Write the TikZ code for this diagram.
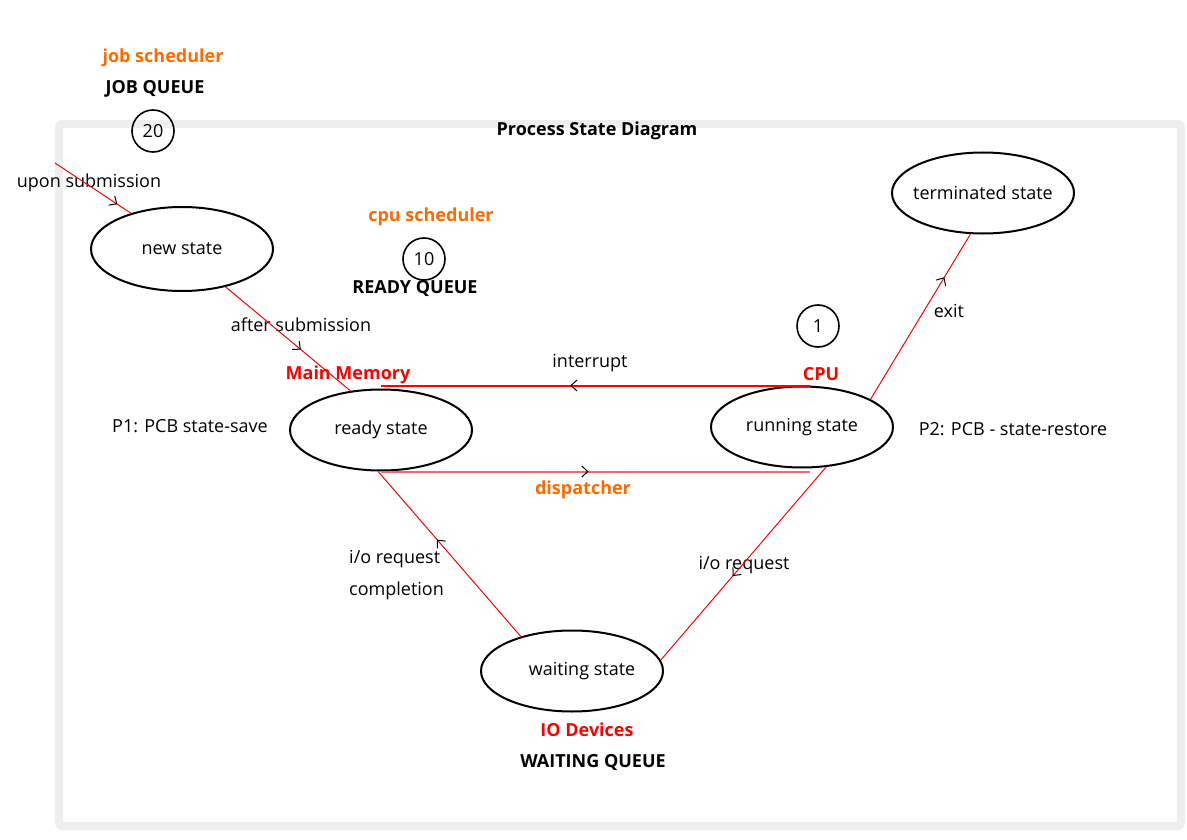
\documentclass[tikz,border=0pt]{standalone}
\usepackage{fontspec}
\setmainfont{Open Sans}
\usetikzlibrary{shapes.geometric}
\definecolor{frame}{HTML}{EEEEEE}
\definecolor{orng}{HTML}{FF6A00}
\definecolor{dispred}{HTML}{F26B6B}
\definecolor{linered}{HTML}{FF0000}
\tikzset{
  state/.style={ellipse,draw=black,line width=2pt,minimum width=182pt,minimum height=81pt,inner xsep=-20pt,inner ysep=-6pt,font=\fontsize{18}{20}\selectfont},
  cnt/.style={circle,draw=black,line width=1.6pt,minimum size=42pt,inner sep=0pt,font=\fontsize{18}{20}\selectfont},
  lbl/.style={font=\fontsize{18}{20}\selectfont,inner sep=0pt},
  hdr/.style={font=\fontsize{18}{20}\selectfont\bfseries,inner sep=0pt},
  redline/.style={draw=linered,line width=1pt},
  tip/.style={pos=#1,sloped,allow upside down,inner sep=0pt,minimum size=14pt,
    path picture={\draw[black,line width=1pt,line join=miter]
      ([xshift=-3pt,yshift=5.5pt]path picture bounding box.center) --
      ([xshift=3pt]path picture bounding box.center) --
      ([xshift=-3pt,yshift=-5.5pt]path picture bounding box.center);}},
}
\begin{document}
\begin{tikzpicture}[x=1pt,y=-1pt]
\useasboundingbox (0,0) rectangle (1187,840);
\draw[frame,line width=8pt,rounded corners=3pt] (59,124) rectangle (1181,826);
\node[hdr] (title) at (597,131) {Process State Diagram};
% job queue
\node[hdr,text=orng] (jobs) at (163,58) {job scheduler};
\node[hdr] (jobq) at (155,89) {JOB QUEUE};
\node[cnt] (c20) at (153,131) {20};
% cpu scheduler
\node[hdr,text=orng] (cpus) at (431,217) {cpu scheduler};
\node[cnt] (c10) at (424,259) {10};
\node[hdr] (readyq) at (415,289) {READY QUEUE};
\node[cnt] (c1) at (818,326) {1};
% states
\node[state,minimum height=84pt] (new) at (182,249) {new state};
\node[state] (ready) at (381,430) {ready state};
\node[state] (running) at (802,427) {running state};
\node[state] (term) at (983,193) {terminated state};
\node[state] (wait) at (572,671) {\hspace*{20pt}waiting state};
% labels
\node[lbl] (upon) at (89,183) {upon submission};
\node[lbl] (after) at (301,325) {after submission};
\node[hdr,text=red] (mm) at (348,375) {Main Memory};
\node[hdr,text=red] (cpu) at (821,374) {CPU};
\node[lbl] (p1) at (190,426) {P1: PCB state-save};
\node[lbl] (p2) at (1013,429) {P2: PCB - state-restore};
\node[lbl] (intr) at (590,363) {interrupt};
\node[hdr,text=orng] (disp) at (583,490) {dispatcher};
\node[lbl] (exit) at (949,311) {exit};
\node[lbl] (ioreq) at (744,565) {i/o request};
\node[lbl,anchor=west] (io1) at (349,559) {i/o request};
\node[lbl,anchor=west] (io2) at (349,591) {completion};
\node[hdr,text=red] (iodev) at (587,730) {IO Devices};
\node[hdr] (waitq) at (593,762) {WAITING QUEUE};
% connectors
\coordinate (src) at (55,163);
\draw[redline] (src) -- (new.145) node[tip=0.78] (t1) {};
\draw[redline] (new.-41) -- (ready.128) node[tip=0.58] (t2) {};
\coordinate (intstart) at ([xshift=8pt]running.north);
\coordinate (intend) at (ready.north |- intstart);
\draw[redline,line width=2pt] (intstart) -- (intend) node[tip=0.55] (t3) {};
\coordinate (dispend) at ([xshift=8pt]running.south |- ready.south);
\draw[draw=dispred,line width=2pt] (ready.south) -- (dispend) node[tip=0.475] (t4) {};
\draw[redline] (running.22) -- (term.-107) node[tip=0.72] (t5) {};
\draw[redline] (running.-59) -- (wait.7) node[tip=0.55] (t6) {};
\draw[redline] (wait.146) -- (ready.-94) node[tip=0.57] (t7) {};
\end{tikzpicture}
\end{document}
